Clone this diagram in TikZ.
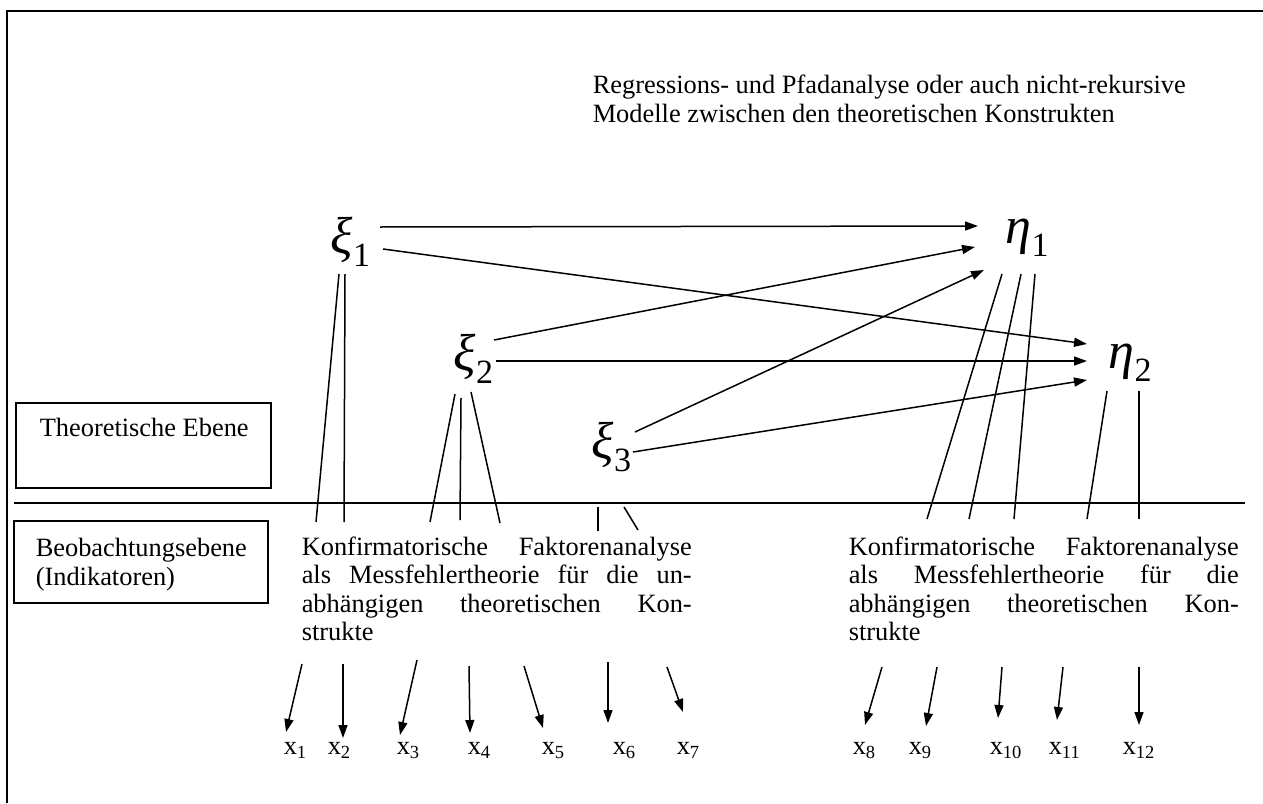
\documentclass[tikz,border=0pt]{standalone}
\usepackage{fontspec}
\setmainfont{Liberation Serif}
\usetikzlibrary{arrows.meta}

% text sizes
\newcommand{\bodytext}{\fontsize{26.4}{28.6}\selectfont}
% one fully justified line of a description block
\newcommand{\jline}[1]{\makebox[390pt][s]{\spaceskip=0pt\xspaceskip=0pt #1}}
% latent construct: italic Greek letter with upright index
\newcommand{\latent}[2]{{\fontsize{52}{52}\selectfont\itshape #1}\raisebox{-13pt}{\fontsize{34}{34}\selectfont #2}}
% observed indicator x_i
\newcommand{\indic}[1]{{\fontsize{26.4}{26}\selectfont x}\raisebox{-4pt}{\fontsize{18.5}{18}\selectfont #1}}

\begin{document}
\begin{tikzpicture}[x=1pt,y=-1pt,line width=1.5pt,
  txt/.style={inner sep=0pt,anchor=base west,font=\bodytext},
  lat/.style={inner sep=0pt,anchor=base west},
  block/.style={txt,text width=390pt,align=left},
  arr/.style={-{Triangle[length=13pt,width=9pt]}}]
\useasboundingbox (0,0) rectangle (1263,803);

% outer frame and level separator
\draw[line width=2pt] (7,803) -- (7,11) -- (1263,11);
\draw (14,503) -- (1245,503);

% level labels (multi-line nodes are placed by their last baseline)
\draw (16,403) rectangle (271,488);
\node[txt] (theo) at (39,436) {Theoretische Ebene};
\draw (14,521) rectangle (268,603);
\node[txt,align=left] (beob) at (35,585) {Beobachtungsebene\\(Indikatoren)};

% structural model caption
\node[txt,align=left] (caption) at (592,122)
  {Regressions- und Pfadanalyse oder auch nicht-rekursive\\Modelle zwischen den theoretischen Konstrukten};

% latent constructs
\node[lat] (xi1) at (330,253) {\latent{ξ}{1}};
\node[lat] (xi2) at (453,370) {\latent{ξ}{2}};
\node[lat] (xi3) at (591,458) {\latent{ξ}{3}};
\node[lat] (eta1) at (1005,243) {\latent{η}{1}};
\node[lat] (eta2) at (1108,368) {\latent{η}{2}};

% measurement model descriptions (placed by their first baseline)
\node[block] (kfaL) at (301,555) {%
  \jline{Konfirmatorische Faktorenanalyse}\\
  \jline{als Messfehlertheorie für die un-}\\
  \jline{abhängigen theoretischen Kon-}\\
  strukte};
\node[block] (kfaR) at (848,555) {%
  \jline{Konfirmatorische Faktorenanalyse}\\
  \jline{als Messfehlertheorie für die}\\
  \jline{abhängigen theoretischen Kon-}\\
  strukte};

% structural paths
\draw[arr] ([shift={(50,-26)}]xi1.base west) -- ([shift={(-27,-17)}]eta1.base west);
\draw[arr] ([shift={(53,-4)}]xi1.base west) -- ([shift={(-21,-24)}]eta2.base west);
\draw[arr] ([shift={(41,-30)}]xi2.base west) -- ([shift={(-30,4)}]eta1.base west);
\draw[arr] ([shift={(43,-9)}]xi2.base west) -- ([shift={(-21,-7)}]eta2.base west);
\draw[arr] ([shift={(44,-26)}]xi3.base west) -- ([shift={(-21,27)}]eta1.base west);
\draw[arr] ([shift={(42,-6)}]xi3.base west) -- ([shift={(-21,12)}]eta2.base west);

% links of the exogenous constructs to the measurement level
\draw ([shift={(9,21)}]xi1.base west) -- ([shift={(15,-33)}]kfaL.base west);
\draw ([shift={(15,21)}]xi1.base west) -- ([shift={(43,-33)}]kfaL.base west);
\draw ([shift={(2,24)}]xi2.base west) -- ([shift={(129,-33)}]kfaL.base west);
\draw ([shift={(8,28)}]xi2.base west) -- ([shift={(159,-35)}]kfaL.base west);
\draw ([shift={(18,22)}]xi2.base west) -- ([shift={(199,-32)}]kfaL.base west);
\draw ([shift={(297,-48)}]kfaL.base west) -- ([shift={(297,-24)}]kfaL.base west);
\draw ([shift={(323,-48)}]kfaL.base west) -- ([shift={(337,-25)}]kfaL.base west);

% links of the endogenous constructs to the measurement level
\draw ([shift={(-3,31)}]eta1.base west) -- ([shift={(79,-36)}]kfaR.base west);
\draw ([shift={(16,31)}]eta1.base west) -- ([shift={(121,-36)}]kfaR.base west);
\draw ([shift={(30,31)}]eta1.base west) -- ([shift={(166,-36)}]kfaR.base west);
\draw ([shift={(-1,23)}]eta2.base west) -- ([shift={(239,-36)}]kfaR.base west);
\draw ([shift={(31,23)}]eta2.base west) -- ([shift={(291,-36)}]kfaR.base west);

% indicators
\node[lat] (x1) at (283,754) {\indic{1}};
\node[lat] (x2) at (327,754) {\indic{2}};
\node[lat] (x3) at (396,754) {\indic{3}};
\node[lat] (x4) at (467,754) {\indic{4}};
\node[lat] (x5) at (541,754) {\indic{5}};
\node[lat] (x6) at (612,754) {\indic{6}};
\node[lat] (x7) at (676,754) {\indic{7}};
\node[lat] (x8) at (852,754) {\indic{8}};
\node[lat] (x9) at (908,754) {\indic{9}};
\node[lat] (x10) at (989,754) {\indic{10}};
\node[lat] (x11) at (1048,754) {\indic{11}};
\node[lat] (x12) at (1122,754) {\indic{12}};

% measurement arrows
\draw[arr] ([shift={(1,109)}]kfaL.base west) -- ([shift={(3,-22)}]x1.base west);
\draw[arr] ([shift={(42,109)}]kfaL.base west) -- ([shift={(16,-16)}]x2.base west);
\draw[arr] ([shift={(116,105)}]kfaL.base west) -- ([shift={(4,-19)}]x3.base west);
\draw[arr] ([shift={(168,111)}]kfaL.base west) -- ([shift={(3,-21)}]x4.base west);
\draw[arr] ([shift={(223,111)}]kfaL.base west) -- ([shift={(2,-26)}]x5.base west);
\draw[arr] ([shift={(307,107)}]kfaL.base west) -- ([shift={(-4,-31)}]x6.base west);
\draw[arr] ([shift={(366,112)}]kfaL.base west) -- ([shift={(7,-42)}]x7.base west);
\draw[arr] ([shift={(34,112)}]kfaR.base west) -- ([shift={(13,-29)}]x8.base west);
\draw[arr] ([shift={(89,112)}]kfaR.base west) -- ([shift={(18,-28)}]x9.base west);
\draw[arr] ([shift={(154,112)}]kfaR.base west) -- ([shift={(9,-36)}]x10.base west);
\draw[arr] ([shift={(215,112)}]kfaR.base west) -- ([shift={(9,-34)}]x11.base west);
\draw[arr] ([shift={(291,112)}]kfaR.base west) -- ([shift={(17,-29)}]x12.base west);
\end{tikzpicture}
\end{document}
